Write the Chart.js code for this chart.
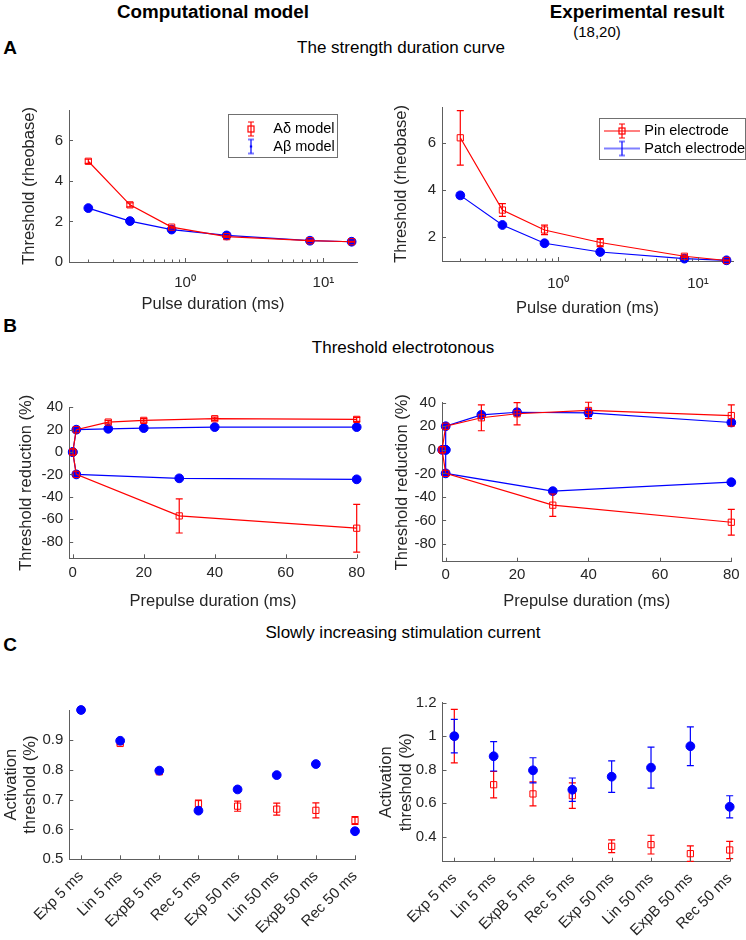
<!DOCTYPE html>
<html><head><meta charset="utf-8">
<script src="https://cdn.jsdelivr.net/npm/chart.js@4/dist/chart.umd.min.js"></script>
<style>
html,body{margin:0;padding:0;background:#fff;}
#fig{position:relative;width:746px;height:940px;overflow:hidden;font-family:'Liberation Sans',Arial,Helvetica,sans-serif;color:#000;}
.t{position:absolute;white-space:nowrap;transform:translate(-50%,-50%);line-height:1;}
.b{font-weight:bold;}
canvas{position:absolute;}
</style></head><body>
<div id="fig">
 <div class="t b" style="left:213px;top:12px;font-size:18.8px">Computational model</div>
 <div class="t b" style="left:637px;top:12px;font-size:18.8px">Experimental result</div>
 <div class="t" style="left:597px;top:31px;font-size:15px">(18,20)</div>
 <div class="t b" style="left:10px;top:47px;font-size:19px">A</div>
 <div class="t" style="left:401px;top:47px;font-size:17px">The strength duration curve</div>
 <div class="t b" style="left:10px;top:325px;font-size:19px">B</div>
 <div class="t" style="left:403px;top:347px;font-size:17px">Threshold electrotonous</div>
 <div class="t b" style="left:10px;top:644px;font-size:19px">C</div>
 <div class="t" style="left:403px;top:632px;font-size:17px">Slowly increasing stimulation current</div>
 <canvas id="aL"></canvas><canvas id="aR"></canvas>
 <canvas id="bL"></canvas><canvas id="bR"></canvas>
 <canvas id="cL"></canvas><canvas id="cR"></canvas>
</div>
<script>
// ---------- data ----------
const pulseDurations = [0.2, 0.4, 0.8, 2, 8, 16];
const modelAdelta    = [4.97, 2.82, 1.72, 1.25, 1.05, 1.0];
const modelAdeltaErr = [0.1, 0.1, 0.05, 0.04, 0.03, 0.02];
const modelAbeta     = [2.66, 2.02, 1.6, 1.31, 1.05, 1.0];
const expPin         = [6.2, 3.15, 2.31, 1.78, 1.2, 1.02];
const expPinErr      = [1.15, 0.27, 0.2, 0.17, 0.05, 0.02];
const expPatch       = [3.77, 2.52, 1.75, 1.38, 1.1, 1.03];
const expPatchErr    = [0.12, 0.05, 0.04, 0.03, 0.03, 0.02];

const modelDepolX        = [0, 1, 10, 20, 40, 80];
const modelDepolAdelta   = [0, 20, 26.8, 28.3, 29.8, 29.2];
const modelDepolAdeltaErr= [0, 0, 1.5, 1.5, 1.5, 1.8];
const modelDepolAbeta    = [0, 20, 20.8, 21.4, 22.3, 22.3];
const modelHyperX        = [0, 1, 30, 80];
const modelHyperAdelta   = [0, -20, -57.1, -68.1];
const modelHyperAdeltaErr= [0, 0, 15.3, 21.4];
const modelHyperAbeta    = [0, -20, -23.5, -24.4];

const expPinDepolX     = [-1, 0, 10, 20, 40, 80];
const expPinDepol      = [0, 20, 27.2, 30.6, 33.4, 29.1];
const expPinDepolErr   = [0, 0, 11, 9.5, 7, 9];
const expPinHyperX     = [-1, 0, 30, 80];
const expPinHyper      = [0, -20, -47, -61.5];
const expPinHyperErr   = [0, 0, 9.5, 11];
const expPatchDepolX   = [-1, 0, 0, 10, 20, 40, 80];
const expPatchDepol    = [0, 0, 20, 29.7, 31.9, 31.4, 23.2];
const expPatchDepolErr = [0, 0, 0, 0, 2.5, 3, 2.5];
const expPatchHyperX   = [0, 0, 30, 80];
const expPatchHyper    = [0, -20, -35.1, -27.5];
const expPatchHyperErr = [0, 0, 1.5, 1.5];

const rampLabels = ['Exp 5 ms','Lin 5 ms','ExpB 5 ms','Rec 5 ms','Exp 50 ms','Lin 50 ms','ExpB 50 ms','Rec 50 ms'];
const rampIndex  = [1, 2, 3, 4, 5, 6, 7, 8];
const modelRampAdelta    = [1.0, 0.888, 0.793, 0.686, 0.678, 0.668, 0.664, 0.630];
const modelRampAdeltaErr = [0.003, 0.004, 0.004, 0.012, 0.017, 0.02, 0.025, 0.013];
const modelRampAbeta     = [1.0, 0.897, 0.797, 0.663, 0.734, 0.782, 0.819, 0.594];
const expRampPin         = [1.0, 0.71, 0.655, 0.645, 0.342, 0.352, 0.298, 0.32];
const expRampPinErr      = [0.16, 0.079, 0.072, 0.076, 0.038, 0.056, 0.046, 0.052];
const expRampPatch       = [1.0, 0.88, 0.796, 0.68, 0.758, 0.812, 0.94, 0.578];
const expRampPatchErr    = [0.1, 0.088, 0.075, 0.07, 0.094, 0.122, 0.116, 0.066];

// ---------- tick values ----------
const logTicks = [0.2,0.3,0.4,0.5,0.6,0.7,0.8,0.9,1,2,3,4,5,6,7,8,9,10];
const logMajor = [1, 10];
const thresholdTicksModel = [0, 2, 4, 6];
const thresholdTicksExp = [2, 4, 6];
const reductionTicks = [-80, -60, -40, -20, 0, 20, 40];
const prepulseTicks = [0, 20, 40, 60, 80];
const activationTicksModel = [0.5, 0.6, 0.7, 0.8, 0.9];
const activationTicksExp = [0.4, 0.6, 0.8, 1, 1.2];

// ---------- style ----------
const FONT = "'Liberation Sans', Arial, Helvetica, sans-serif";
const RED = '#ff0000', BLUE = '#0000ff', AXIS = '#5e5e5e', TXT = '#262626';

function pts(xs, ys) { return xs.map((x, i) => ({x: x, y: ys[i]})); }
function redSeries(xs, ys, errs, line) {
  return {data: pts(xs, ys), errors: errs, showLine: line, borderColor: RED, backgroundColor: RED,
    borderWidth: 1.2, tension: 0, pointStyle: 'rect', pointRadius: 4.4, pointBorderWidth: 1,
    pointBackgroundColor: 'rgba(0,0,0,0)', pointBorderColor: RED, clip: false};
}
function blueSeries(xs, ys, errs, line) {
  return {data: pts(xs, ys), errors: errs, showLine: line, borderColor: BLUE, backgroundColor: BLUE,
    borderWidth: 1.2, tension: 0, pointStyle: 'circle', pointRadius: 4.4, pointBorderWidth: 1,
    pointBackgroundColor: BLUE, pointBorderColor: BLUE, clip: false};
}

const inwardTicks = {
  id: 'inwardTicks',
  afterDraw(chart) {
    const {ctx, chartArea: a, scales} = chart;
    ctx.save(); ctx.strokeStyle = AXIS; ctx.lineWidth = 1;
    scales.x.ticks.forEach(t => {
      const len = t.minor ? 2.5 : 4;
      const px = Math.round(scales.x.getPixelForValue(t.value)) + 0.5;
      ctx.beginPath(); ctx.moveTo(px, a.bottom); ctx.lineTo(px, a.bottom - len); ctx.stroke();
    });
    scales.y.ticks.forEach(t => {
      const py = Math.round(scales.y.getPixelForValue(t.value)) + 0.5;
      ctx.beginPath(); ctx.moveTo(a.left, py); ctx.lineTo(a.left + 4, py); ctx.stroke();
    });
    ctx.restore();
  }
};

const errorBars = {
  id: 'errorBars',
  afterDatasetDraw(chart, args) {
    const ds = chart.data.datasets[args.index];
    if (!ds.errors) return;
    const meta = args.meta, ys = chart.scales[meta.yAxisID], ctx = chart.ctx;
    ctx.save(); ctx.strokeStyle = ds.borderColor; ctx.lineWidth = 1.2;
    const cap = 3.5;
    meta.data.forEach((pt, i) => {
      const e = ds.errors[i]; if (!e) return;
      const v = ds.data[i].y;
      const y1 = ys.getPixelForValue(v + e), y2 = ys.getPixelForValue(v - e), x = pt.x;
      ctx.beginPath();
      ctx.moveTo(x, y1); ctx.lineTo(x, y2);
      ctx.moveTo(x - cap, y1); ctx.lineTo(x + cap, y1);
      ctx.moveTo(x - cap, y2); ctx.lineTo(x + cap, y2);
      ctx.stroke();
    });
    ctx.restore();
  }
};

function legendGlyph(color, marker, withLine) {
  const c = document.createElement('canvas'); c.width = 38; c.height = 18;
  const g = c.getContext('2d'); g.strokeStyle = color; g.fillStyle = color; g.lineWidth = 1.2;
  const cx = 19, cy = 9;
  g.beginPath();
  if (withLine) { g.moveTo(1, cy); g.lineTo(37, cy); }
  g.moveTo(cx, 2); g.lineTo(cx, 16);
  g.moveTo(cx - 3, 2); g.lineTo(cx + 3, 2);
  g.moveTo(cx - 3, 16); g.lineTo(cx + 3, 16);
  g.stroke();
  if (marker === 'square') { g.strokeRect(cx - 3, cy - 3, 6, 6); }
  else if (marker === 'dot') { g.beginPath(); g.arc(cx, cy, 1.3, 0, Math.PI * 2); g.fill(); }
  return c;
}

function makePanel(cfg) {
  const {id, rect, area} = cfg;
  const cv = document.getElementById(id);
  cv.width = rect.w; cv.height = rect.h;
  cv.style.left = rect.l + 'px'; cv.style.top = rect.t + 'px';
  cv.style.width = rect.w + 'px'; cv.style.height = rect.h + 'px';
  const tickSize = 15, titleSize = 16.5, lh = titleSize * 1.2;
  const yLines = Array.isArray(cfg.yTitle) ? cfg.yTitle.length : 1;
  const plugins = [inwardTicks, errorBars];
  let legendOpts = {display: false};
  if (cfg.legend) {
    const L = cfg.legend;
    legendOpts = {
      display: true, position: 'chartArea', align: 'start',
      labels: {usePointStyle: true, pointStyleWidth: 30, padding: 3, color: '#000',
        font: {family: FONT, size: 14.5},
        generateLabels: () => L.items.map((it, i) => ({text: it.text, pointStyle: it.glyph,
          fillStyle: 'rgba(0,0,0,0)', strokeStyle: 'rgba(0,0,0,0)', lineWidth: 0, hidden: false,
          datasetIndex: i, fontColor: '#000'}))}
    };
    plugins.push({
      id: 'legendPlacer',
      afterLayout(chart) {
        const lg = chart.legend; if (!lg) return;
        lg.left = L.x - rect.l; lg.top = L.y - rect.t; lg.width = 200; lg.height = 60;
        lg.right = lg.left + lg.width; lg.bottom = lg.top + lg.height;
      },
      afterDraw(chart) {
        const ctx = chart.ctx; ctx.save(); ctx.strokeStyle = '#707070'; ctx.lineWidth = 1;
        ctx.strokeRect(Math.round(L.box[0] - rect.l) + 0.5, Math.round(L.box[1] - rect.t) + 0.5, L.box[2], L.box[3]);
        ctx.restore();
      }
    });
  }
  new Chart(cv, {
    type: 'line',
    data: {datasets: cfg.datasets},
    options: {
      responsive: false, maintainAspectRatio: false, animation: false, devicePixelRatio: 1, events: [],
      layout: {padding: {left: 0, top: area.t - rect.t, right: rect.l + rect.w - area.r, bottom: 0}},
      plugins: {legend: legendOpts, tooltip: {enabled: false}, title: {display: false}},
      scales: {
        x: {
          type: cfg.xType || 'linear', position: 'bottom', min: cfg.xMin, max: cfg.xMax, bounds: 'data', offset: false,
          grid: {display: false, drawTicks: false}, border: {display: true, color: AXIS, width: 1},
          ticks: {autoSkip: false, color: TXT, font: {family: FONT, size: tickSize}, padding: cfg.xTickPad,
            maxRotation: cfg.xRot || 0, minRotation: cfg.xRot || 0, callback: cfg.xLabel},
          title: {display: true, text: cfg.xTitle || '', color: TXT, font: {family: FONT, size: titleSize},
            padding: {top: 0, bottom: rect.t + rect.h - (cfg.xTitleY || 0) - lh / 2}},
          afterBuildTicks: s => { s.ticks = cfg.xTicks.map(v => ({value: v, minor: cfg.xMajor ? cfg.xMajor.indexOf(v) < 0 : false})); },
          afterFit: s => { s.height = rect.t + rect.h - area.b; s.paddingLeft = 0; s.paddingRight = 0; s.paddingTop = 0; s.paddingBottom = 0; }
        },
        y: {
          type: 'linear', position: 'left', min: cfg.yMin, max: cfg.yMax, bounds: 'data',
          grid: {display: false, drawTicks: false}, border: {display: true, color: AXIS, width: 1},
          ticks: {autoSkip: false, color: TXT, font: {family: FONT, size: tickSize}, padding: 6,
            callback: v => String(v)},
          title: {display: true, text: cfg.yTitle, color: TXT, font: {family: FONT, size: titleSize},
            padding: {top: cfg.yTitleX - rect.l - lh * yLines / 2, bottom: 0}},
          afterBuildTicks: s => { s.ticks = cfg.yTicks.map(v => ({value: v})); },
          afterFit: s => { s.width = area.l - rect.l; s.paddingLeft = 0; s.paddingRight = 0; s.paddingTop = 0; s.paddingBottom = 0; }
        }
      }
    },
    plugins: plugins
  });
}

const logLabel = v => v === 1 ? '10\u2070' : (v === 10 ? '10\u00b9' : '');

// ---------- A ----------
makePanel({
  id: 'aL', rect: {l: 0, t: 95, w: 373, h: 225}, area: {l: 69, t: 110, r: 357, b: 262},
  xType: 'logarithmic', xMin: 0.145, xMax: 17.5, xTicks: logTicks, xMajor: logMajor, xLabel: logLabel, xTickPad: 12,
  xTitle: 'Pulse duration (ms)', xTitleY: 304,
  yMin: 0, yMax: 7.5, yTicks: thresholdTicksModel, yTitle: 'Threshold (rheobase)', yTitleX: 29.5,
  datasets: [redSeries(pulseDurations, modelAdelta, modelAdeltaErr, true),
             blueSeries(pulseDurations, modelAbeta, null, true)],
  legend: {x: 233, y: 118.75, box: [228, 114, 109, 43],
    items: [{text: 'A\u03b4 model', glyph: legendGlyph(RED, 'square', false)},
            {text: 'A\u03b2 model', glyph: legendGlyph(BLUE, 'dot', false)}]}
});
makePanel({
  id: 'aR', rect: {l: 373, t: 95, w: 373, h: 225}, area: {l: 442, t: 107, r: 733, b: 261},
  xType: 'logarithmic', xMin: 0.148, xMax: 17.8, xTicks: logTicks, xMajor: logMajor, xLabel: logLabel, xTickPad: 14,
  xTitle: 'Pulse duration (ms)', xTitleY: 308,
  yMin: 1, yMax: 7.5, yTicks: thresholdTicksExp, yTitle: 'Threshold (rheobase)', yTitleX: 401.5,
  datasets: [redSeries(pulseDurations, expPin, expPinErr, true),
             blueSeries(pulseDurations, expPatch, expPatchErr, true)],
  legend: {x: 604, y: 120.75, box: [599, 118, 146, 41],
    items: [{text: 'Pin electrode', glyph: legendGlyph(RED, 'square', true)},
            {text: 'Patch electrode', glyph: legendGlyph(BLUE, 'none', true)}]}
});

// ---------- B ----------
makePanel({
  id: 'bL', rect: {l: 0, t: 390, w: 373, h: 230}, area: {l: 69.2, t: 407.3, r: 356.7, b: 558.3},
  xMin: -1, xMax: 80, xTicks: prepulseTicks, xLabel: v => String(v), xTickPad: 6,
  xTitle: 'Prepulse duration (ms)', xTitleY: 601,
  yMin: -95, yMax: 40, yTicks: reductionTicks, yTitle: 'Threshold reduction (%)', yTitleX: 26,
  datasets: [redSeries(modelDepolX, modelDepolAdelta, modelDepolAdeltaErr, true),
             redSeries(modelHyperX, modelHyperAdelta, modelHyperAdeltaErr, true),
             blueSeries(modelDepolX, modelDepolAbeta, null, true),
             blueSeries(modelHyperX, modelHyperAbeta, null, true)]
});
makePanel({
  id: 'bR', rect: {l: 373, t: 390, w: 373, h: 230}, area: {l: 442.1, t: 402.7, r: 731.3, b: 561.7},
  xMin: -1, xMax: 80, xTicks: prepulseTicks, xLabel: v => String(v), xTickPad: 4,
  xTitle: 'Prepulse duration (ms)', xTitleY: 601,
  yMin: -95, yMax: 40, yTicks: reductionTicks, yTitle: 'Threshold reduction (%)', yTitleX: 402.5,
  datasets: [redSeries(expPinDepolX, expPinDepol, expPinDepolErr, true),
             redSeries(expPinHyperX, expPinHyper, expPinHyperErr, true),
             blueSeries(expPatchDepolX, expPatchDepol, expPatchDepolErr, true),
             blueSeries(expPatchHyperX, expPatchHyper, expPatchHyperErr, true)]
});

// ---------- C ----------
const rampLabel = v => rampLabels[v - 1];
makePanel({
  id: 'cL', rect: {l: 0, t: 690, w: 373, h: 250}, area: {l: 69.3, t: 710, r: 355, b: 859.3},
  xMin: 0.7, xMax: 8, xTicks: rampIndex, xLabel: rampLabel, xTickPad: 8, xRot: 45,
  xTitle: '', xTitleY: 0,
  yMin: 0.5, yMax: 1.0, yTicks: activationTicksModel, yTitle: ['Activation', 'threshold (%)'], yTitleX: 21,
  datasets: [blueSeries(rampIndex, modelRampAbeta, null, false),
             redSeries(rampIndex, modelRampAdelta, modelRampAdeltaErr, false)]
});
makePanel({
  id: 'cR', rect: {l: 373, t: 690, w: 373, h: 250}, area: {l: 442.5, t: 702.7, r: 729.7, b: 861.7},
  xMin: 0.7, xMax: 8, xTicks: rampIndex, xLabel: rampLabel, xTickPad: 8, xRot: 45,
  xTitle: '', xTitleY: 0,
  yMin: 0.25, yMax: 1.2, yTicks: activationTicksExp, yTitle: ['Activation', 'threshold (%)'], yTitleX: 396.5,
  datasets: [blueSeries(rampIndex, expRampPatch, expRampPatchErr, false),
             redSeries(rampIndex, expRampPin, expRampPinErr, false)]
});
</script>
</body></html>
